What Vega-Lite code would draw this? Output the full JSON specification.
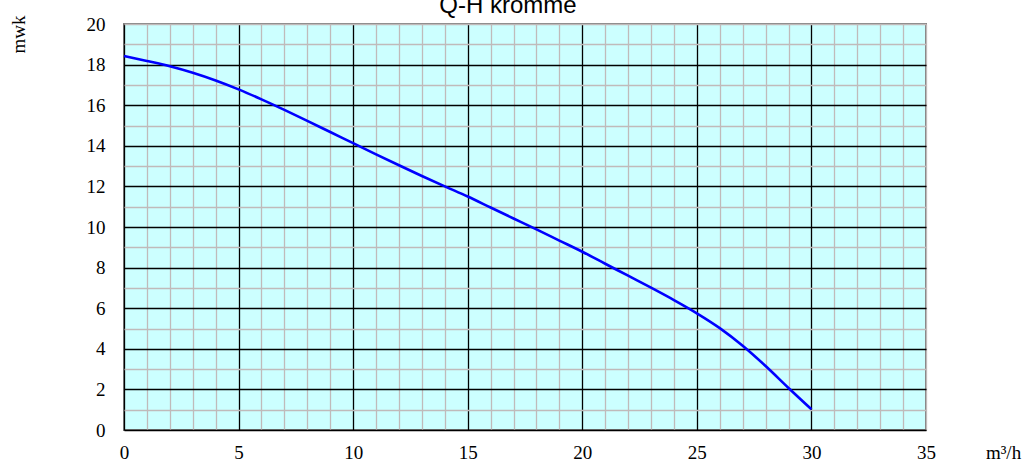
{
  "$schema": "https://vega.github.io/schema/vega-lite/v6.json",
  "width": 802,
  "height": 406,
  "autosize": {"type": "none"},
  "padding": {"left": 124, "top": 24, "right": 101, "bottom": 32},
  "background": "white",
  "title": {
    "text": "Q-H kromme",
    "font": "Liberation Sans",
    "fontSize": 24,
    "fontWeight": "normal",
    "color": "black",
    "anchor": "middle",
    "frame": "group",
    "baseline": "alphabetic",
    "offset": 3,
    "dx": -17,
    "dy": 25
  },
  "config": {
    "view": {"fill": "#ccffff", "stroke": "#808080", "strokeWidth": 2}
  },
  "data": {
    "values": [
      {"q": 0, "h": 18.42}, {"q": 1, "h": 18.18}, {"q": 2, "h": 17.92}, {"q": 3, "h": 17.6},
      {"q": 4, "h": 17.22}, {"q": 5, "h": 16.78}, {"q": 6, "h": 16.29}, {"q": 7, "h": 15.77},
      {"q": 8, "h": 15.23}, {"q": 9, "h": 14.68}, {"q": 10, "h": 14.13}, {"q": 11, "h": 13.58},
      {"q": 12, "h": 13.04}, {"q": 13, "h": 12.51}, {"q": 14, "h": 12.0}, {"q": 15, "h": 11.5},
      {"q": 16, "h": 10.96}, {"q": 17, "h": 10.42}, {"q": 18, "h": 9.88}, {"q": 19, "h": 9.33},
      {"q": 20, "h": 8.78}, {"q": 21, "h": 8.19}, {"q": 22, "h": 7.6}, {"q": 23, "h": 7.01},
      {"q": 24, "h": 6.4}, {"q": 25, "h": 5.75}, {"q": 26, "h": 5.02}, {"q": 27, "h": 4.15},
      {"q": 28, "h": 3.15}, {"q": 29, "h": 2.07}, {"q": 30, "h": 1.02}
    ]
  },
  "mark": {"type": "line", "color": "#0000ff", "strokeWidth": 2.6, "interpolate": "monotone"},
  "encoding": {
    "x": {
      "field": "q",
      "type": "quantitative",
      "scale": {"domain": [0, 35], "nice": false, "zero": false},
      "axis": {
        "values": [0,1,2,3,4,5,6,7,8,9,10,11,12,13,14,15,16,17,18,19,20,21,22,23,24,25,26,27,28,29,30,31,32,33,34,35],
        "labelExpr": "datum.value % 5 === 0 ? datum.label : ''",
        "grid": true,
        "gridColor": {"condition": {"test": "datum.value % 5 === 0 && datum.value < 35", "value": "#000000"}, "value": "#c0baba"},
        "gridWidth": 1.3,
        "gridOpacity": 1,
        "ticks": false,
        "domain": false,
        "labelFont": "Liberation Serif",
        "labelFontSize": 19,
        "labelColor": "black",
        "labelPadding": 13,
        "labelFlush": false,
        "labelOverlap": false,
        "title": "m³/h",
        "titleFont": "Liberation Serif",
        "titleFontSize": 19,
        "titleFontWeight": "normal",
        "titleColor": "black",
        "titleAnchor": null,
        "titleAlign": "center",
        "titleBaseline": "top",
        "titleX": 879,
        "titleY": 13
      }
    },
    "y": {
      "field": "h",
      "type": "quantitative",
      "scale": {"domain": [0, 20], "nice": false},
      "axis": {
        "values": [0,1,2,3,4,5,6,7,8,9,10,11,12,13,14,15,16,17,18,19,20],
        "labelExpr": "datum.value % 2 === 0 ? datum.label : ''",
        "grid": true,
        "gridColor": {"condition": {"test": "datum.value % 2 === 0 && datum.value < 20", "value": "#000000"}, "value": "#c0baba"},
        "gridWidth": 1.3,
        "gridOpacity": 1,
        "ticks": false,
        "domain": false,
        "labelFont": "Liberation Serif",
        "labelFontSize": 19,
        "labelColor": "black",
        "labelPadding": 19,
        "labelFlush": false,
        "labelOverlap": false,
        "title": "mwk",
        "titleFont": "Liberation Serif",
        "titleFontSize": 19,
        "titleFontWeight": "normal",
        "titleColor": "black",
        "titleAngle": -90,
        "titleAnchor": null,
        "titleAlign": "center",
        "titleBaseline": "middle",
        "titleX": -106,
        "titleY": 10
      }
    }
  }
}
